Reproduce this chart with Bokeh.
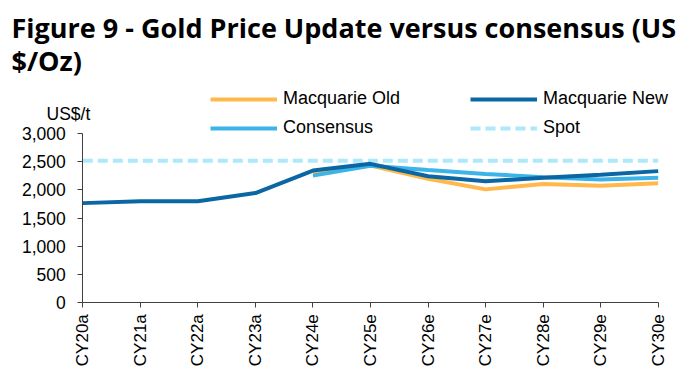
import math
from bokeh.plotting import figure
from bokeh.models import (Range1d, FixedTicker, NumeralTickFormatter, Legend, LegendItem,
                          Label)
from bokeh.embed import file_html
from bokeh.resources import INLINE

categories = ["CY20a", "CY21a", "CY22a", "CY23a", "CY24e", "CY25e",
              "CY26e", "CY27e", "CY28e", "CY29e", "CY30e"]
macq_new = [1765, 1800, 1800, 1945, 2345, 2465, 2245, 2155, 2215, 2270, 2335]
macq_old_cats = ["CY24e", "CY25e", "CY26e", "CY27e", "CY28e", "CY29e", "CY30e"]
macq_old = [2310, 2435, 2200, 2010, 2105, 2075, 2120]
consensus_cats = ["CY24e", "CY25e", "CY26e", "CY27e", "CY28e", "CY29e", "CY30e"]
consensus = [2255, 2430, 2355, 2285, 2225, 2185, 2215]
spot_value = 2520
y_ticks = [0, 500, 1000, 1500, 2000, 2500, 3000]

idx = {c: i for i, c in enumerate(categories)}
x_new = [idx[c] for c in categories]
x_old = [idx[c] for c in macq_old_cats]
x_cons = [idx[c] for c in consensus_cats]
x_spot = [0, len(categories) - 1]

W, H = 700, 373
# pixel layout of the plotting area (screen px)
X0, X1 = 82.3, 657.7          # first / last category
Y0, Y3000 = 301.7, 133.3      # value 0 / value 3000
DX = (X1 - X0) / (len(categories) - 1)
DY = (Y0 - Y3000) / 3000.0

def dx(sx):
    return (sx - X0) / DX

def dy(sy):
    return (Y0 - sy) / DY

FONT = "Liberation Sans"

p = figure(width=W, height=H, output_backend="svg", toolbar_location=None,
           x_range=Range1d(dx(0), dx(W)), y_range=Range1d(dy(H), dy(0)),
           min_border=0, min_border_left=0, min_border_right=0,
           min_border_top=0, min_border_bottom=0, title=None)
p.outline_line_color = None
p.xgrid.visible = False
p.ygrid.visible = False
p.background_fill_color = "white"
p.border_fill_color = "white"

C_NEW = "#0b67a3"
C_CONS = "#3db4e7"
C_OLD = "#ffb84c"
C_SPOT = "#aee8fb"

r_spot = p.line(x_spot, [spot_value, spot_value], line_color=C_SPOT, line_width=4,
                line_dash="10 5")
r_old = p.line(x_old, macq_old, line_color=C_OLD, line_width=4)
r_cons = p.line(x_cons, consensus, line_color=C_CONS, line_width=4)
r_new = p.line(x_new, macq_new, line_color=C_NEW, line_width=4)

# axes fixed at the data origin
xa = p.xaxis[0]
ya = p.yaxis[0]
xa.fixed_location = 0
ya.fixed_location = 0
xa.bounds = (0, len(categories) - 1)
ya.bounds = (0, 3000)
xa.ticker = FixedTicker(ticks=x_new)
xa.major_label_overrides = {i: c for i, c in enumerate(categories)}
xa.major_label_orientation = math.pi / 2
ya.ticker = FixedTicker(ticks=y_ticks)
ya.formatter = NumeralTickFormatter(format="0,0")
for ax in (xa, ya):
    ax.axis_line_color = "#404040"
    ax.axis_line_width = 1
    ax.major_tick_line_color = "#404040"
    ax.major_tick_out = 5
    ax.major_tick_in = 0
    ax.minor_tick_line_color = None
    ax.major_label_text_font = FONT
    ax.major_label_text_color = "#000000"
xa.major_label_text_font_size = "17px"
ya.major_label_text_font_size = "17.5px"
ya.major_label_standoff = 12
xa.major_label_standoff = 7

# legends (two columns)
def make_legend(items, sx_left, sy_bottom):
    return Legend(items=items, location=(sx_left, H - sy_bottom), orientation="vertical",
                  padding=0, margin=0, spacing=8, glyph_height=20, glyph_width=67,
                  label_height=20, label_standoff=6, border_line_color=None,
                  background_fill_alpha=0, label_text_font=FONT,
                  label_text_font_size="18px", label_text_color="#000000")

p.add_layout(make_legend([LegendItem(label="Macquarie Old", renderers=[r_old]),
                          LegendItem(label="Consensus", renderers=[r_cons])], 210, 138))
p.add_layout(make_legend([LegendItem(label="Macquarie New", renderers=[r_new]),
                          LegendItem(label="Spot", renderers=[r_spot])], 470, 138))

# unit label
p.add_layout(Label(x=dx(46), y=dy(113), text="US$/t", text_font=FONT,
                   text_font_size="17.5px", text_color="#000000", text_align="left",
                   text_baseline="alphabetic"))

# title (two lines)
title_lines = ["Figure 9 - Gold Price Update versus consensus (US", "$/Oz)"]
for line, base in zip(title_lines, (27, 60)):
    p.add_layout(Label(x=dx(11), y=dy(base), text=line, text_font="Open Sans",
                       text_font_size="27px", text_font_style="bold",
                       text_color="#000000", text_align="left",
                       text_baseline="alphabetic"))

open("out.html", "w").write(file_html(p, INLINE))
